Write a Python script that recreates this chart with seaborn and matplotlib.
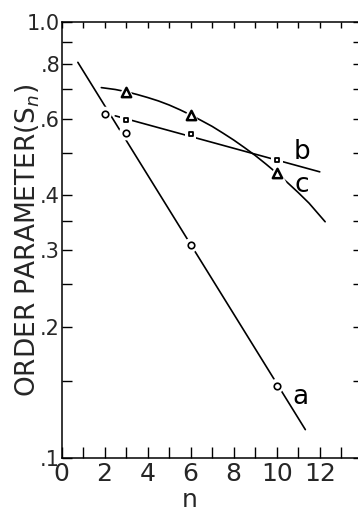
import matplotlib
matplotlib.use("Agg")
import matplotlib.pyplot as plt
import seaborn as sns
from matplotlib.ticker import FixedLocator, FixedFormatter, NullLocator

# ---- data ----
a_x = [2, 3, 6, 10]
a_y = [0.615, 0.556, 0.307, 0.146]
b_x = [3, 6, 10]
b_y = [0.597, 0.553, 0.481]
c_x = [3, 6, 10]
c_y = [0.692, 0.612, 0.45]

# drawn fit lines
line_a_x = [0.76, 11.33]
line_a_y = [0.808, 0.116]
line_b_x = [2.5, 12.0]
line_b_y = [0.609, 0.453]
curve_c_x = [1.85, 2.5, 3, 3.5, 4, 4.5, 5, 5.5, 6, 6.5, 7, 7.5, 8, 8.5, 9, 9.5, 10, 10.5, 11, 11.5, 12.25]
curve_c_y = [0.707, 0.700, 0.692, 0.682, 0.671, 0.659, 0.645, 0.629, 0.612, 0.594, 0.576,
             0.556, 0.536, 0.515, 0.494, 0.472, 0.450, 0.428, 0.406, 0.384, 0.348]

x_ticks = list(range(0, 15))
x_tick_labels = ['0', '', '2', '', '4', '', '6', '', '8', '', '10', '', '12', '', '']
y_ticks = [0.1, 0.15, 0.2, 0.25, 0.3, 0.35, 0.4, 0.5, 0.6, 0.7, 0.8, 0.9, 1.0]
y_tick_labels = ['.1', '', '.2', '', '.3', '', '.4', '', '.6', '', '.8', '', '1.0']

curve_labels = ['a', 'b', 'c']
curve_label_x = [11.08, 11.16, 11.16]
curve_label_y = [0.138, 0.504, 0.4227]

sns.set_style("ticks")
plt.rcParams['font.family'] = ['DejaVu Sans']
plt.rcParams['mathtext.fontset'] = 'dejavusans'

fig = plt.figure(figsize=(3.58, 5.11), dpi=100)
ax = fig.add_axes([61.5 / 358, 53.3 / 511, 301.3 / 358, 435.7 / 511])
ax.set_yscale('log')

lw = 1.2
sns.lineplot(x=line_a_x, y=line_a_y, ax=ax, color='black', lw=lw, estimator=None, sort=False, zorder=2)
sns.lineplot(x=line_b_x, y=line_b_y, ax=ax, color='black', lw=lw, estimator=None, sort=False, zorder=2)
sns.lineplot(x=curve_c_x, y=curve_c_y, ax=ax, color='black', lw=lw, estimator=None, sort=False, zorder=2)

# white halos (gaps in lines around markers)
sns.scatterplot(x=a_x, y=a_y, ax=ax, marker='o', s=110, color='white', edgecolor='none', zorder=3)
sns.scatterplot(x=b_x, y=b_y, ax=ax, marker='s', s=70, color='white', edgecolor='none', zorder=3)
sns.scatterplot(x=c_x, y=c_y, ax=ax, marker='^', s=200, color='white', edgecolor='none', zorder=3)

# markers
sns.scatterplot(x=a_x, y=a_y, ax=ax, marker='o', s=22, facecolor='white', edgecolor='black', linewidth=1.2, zorder=4)
sns.scatterplot(x=b_x, y=b_y, ax=ax, marker='s', s=10, facecolor='white', edgecolor='black', linewidth=1.3, zorder=4)
sns.scatterplot(x=c_x, y=c_y, ax=ax, marker='^', s=45, facecolor='white', edgecolor='black', linewidth=1.8, zorder=4)

for t, lx, ly in zip(curve_labels, curve_label_x, curve_label_y):
    ax.text(lx, ly, t, fontsize=19, ha='center', va='center', color='black')

ax.set_xlim(0, 14)
ax.set_ylim(0.1, 1.0)

ax.xaxis.set_major_locator(FixedLocator(x_ticks))
ax.xaxis.set_major_formatter(FixedFormatter(x_tick_labels))
ax.xaxis.set_minor_locator(NullLocator())
ax.yaxis.set_major_locator(FixedLocator(y_ticks))
ax.yaxis.set_major_formatter(FixedFormatter(y_tick_labels))
ax.yaxis.set_minor_locator(NullLocator())

ax.tick_params(axis='x', which='major', direction='in', length=8, width=1,
               top=True, bottom=True, labelsize=18, pad=3, color='black')
ax.tick_params(axis='y', which='major', direction='in', length=7, width=1,
               left=True, right=True, labelsize=15, pad=1, color='black')
for tk in ax.xaxis.get_major_ticks():
    tk.tick2line.set_markersize(4)

for tk in ax.yaxis.get_major_ticks():
    lab = tk.label1
    if lab.get_text() == '.1':
        lab.set_fontsize(10)
        lab.set_verticalalignment('bottom')
    elif lab.get_text() == '1.0':
        lab.set_fontsize(14)

for side in ['left', 'bottom', 'top']:
    ax.spines[side].set_visible(True)
    ax.spines[side].set_linewidth(1.1)
    ax.spines[side].set_color('black')
ax.spines['right'].set_visible(False)

ax.set_xlabel('n', fontsize=18, va='center')
ax.xaxis.set_label_coords(0.427, -0.097)
ax.set_ylabel(r'ORDER PARAMETER(S$_n$)', fontsize=19, va='center')
ax.yaxis.set_label_coords(-0.113, 0.5)

fig.savefig('out.png', dpi=100)
